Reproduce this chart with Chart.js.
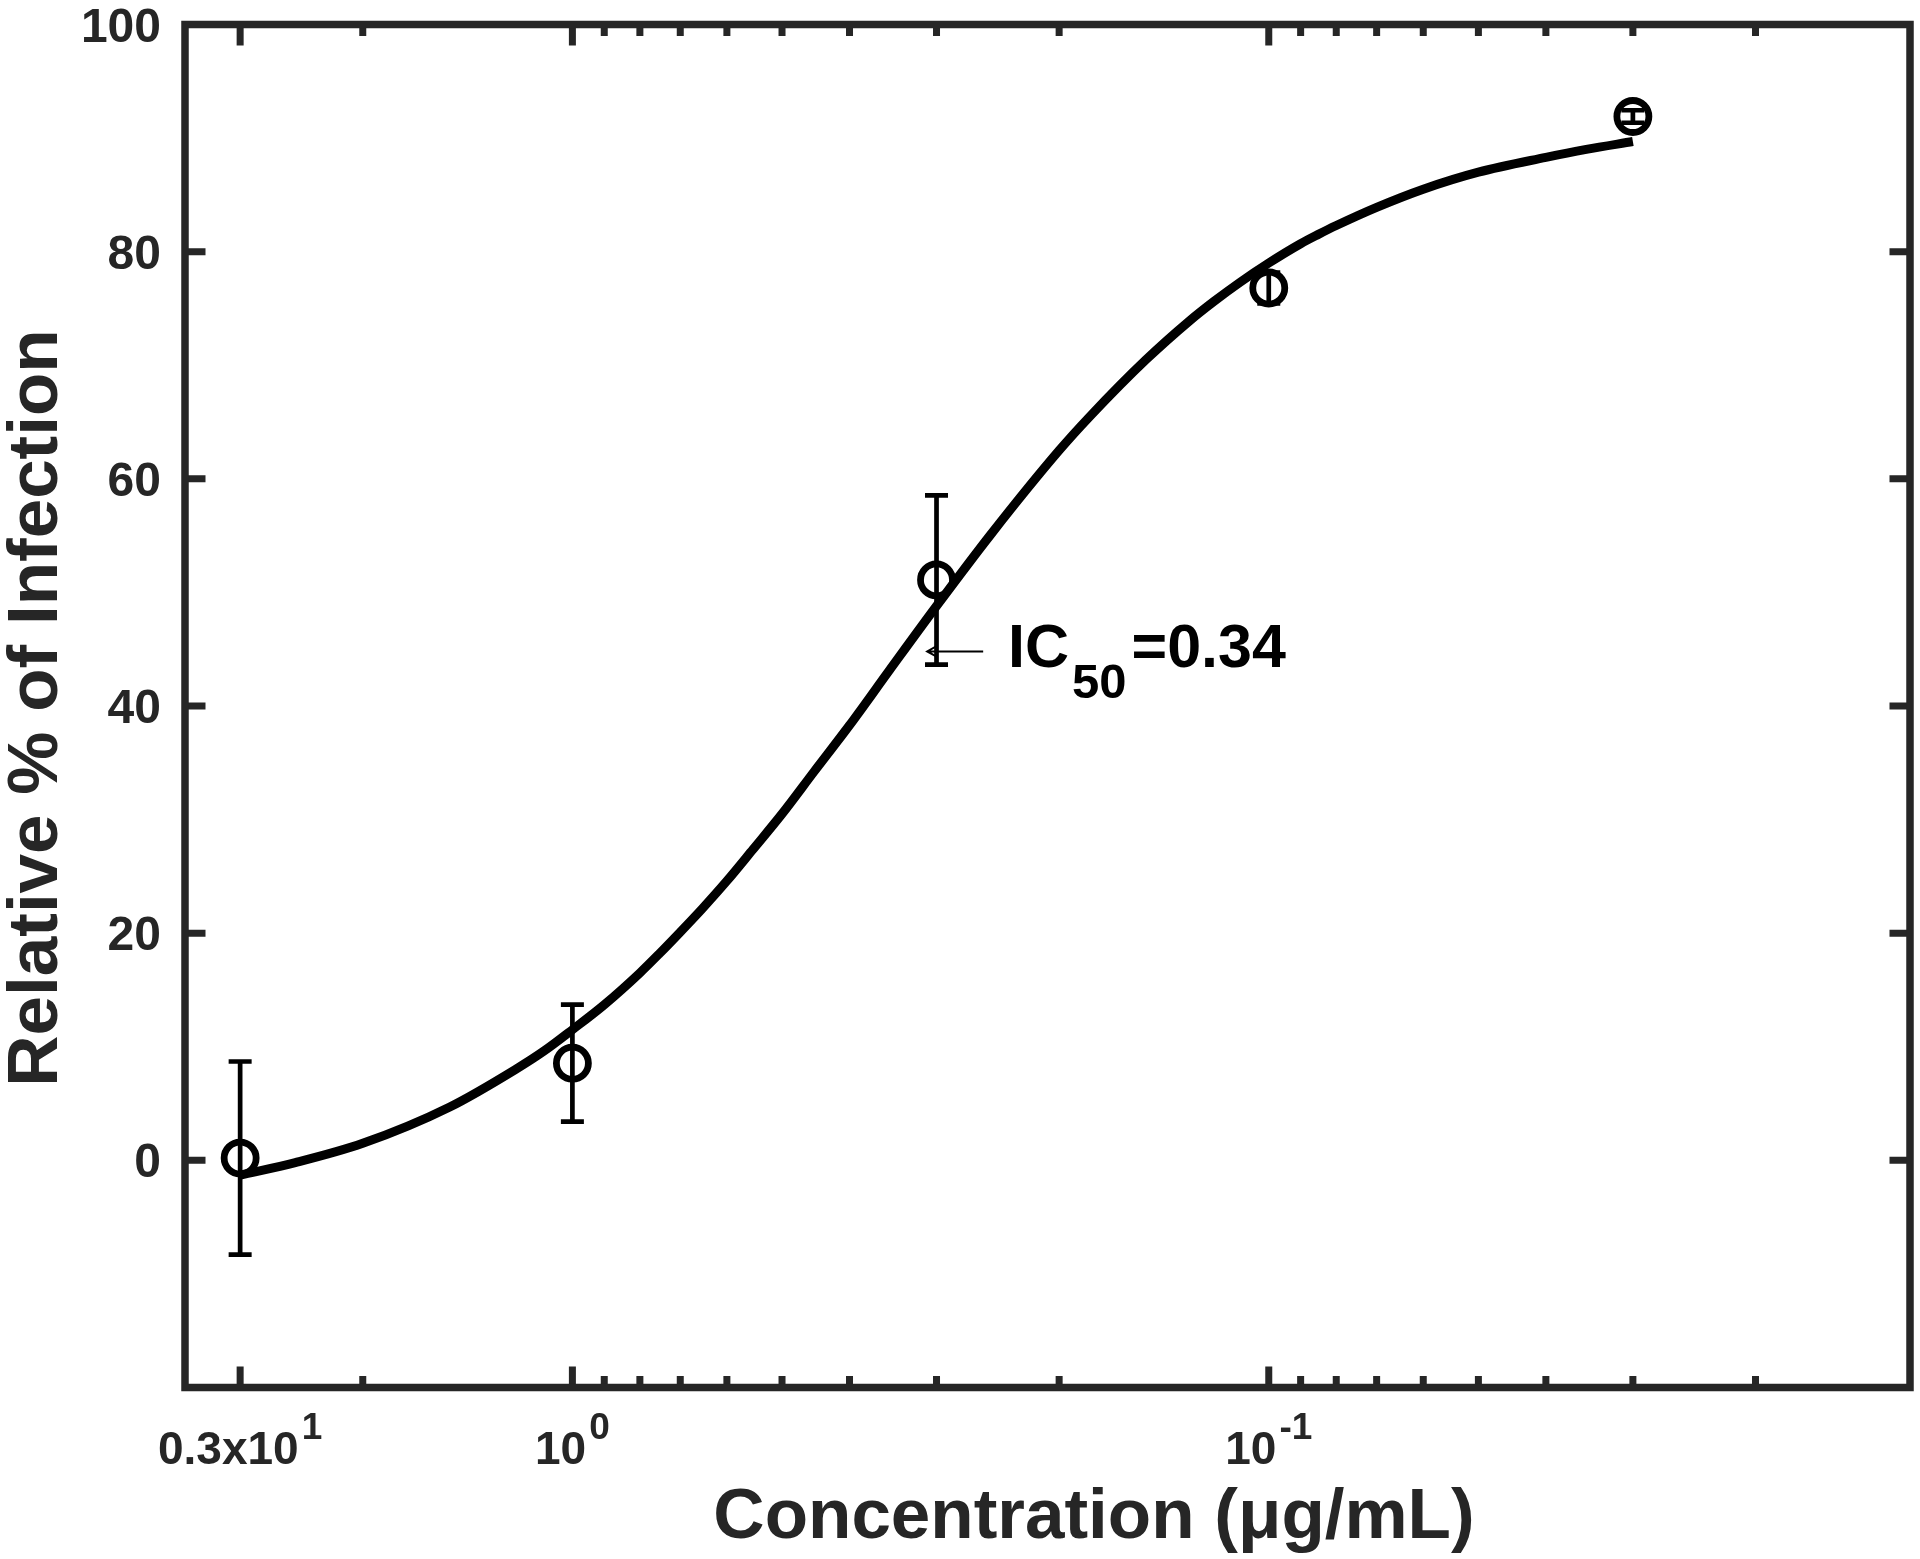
<!DOCTYPE html>
<html>
<head>
<meta charset="utf-8">
<script src="https://cdn.jsdelivr.net/npm/chart.js@4"></script>
<style>
  html, body { margin: 0; padding: 0; background: #fff; }
  #wrap { width: 1920px; height: 1559px; }
</style>
</head>
<body>
<div id="wrap"><canvas id="doseChart" width="1920" height="1559"></canvas></div>
<script>
// Measured points (concentration in ug/mL, relative % of infection)
const concentrations = [3, 1, 0.3, 0.1, 0.03];
const infectionMean = [0.2, 8.55, 51.1, 76.8, 91.9];
const infectionErr = [8.5, 5.15, 7.45, 1.35, 0.55];

// Fitted dose-response curve
const fitConc = [3, 2.5, 2, 1.5, 1.2, 1.1, 1, 0.9, 0.8, 0.75, 0.7, 0.65, 0.6, 0.55, 0.5, 0.45, 0.4, 0.35, 0.3, 0.25, 0.2, 0.18, 0.15, 0.13, 0.12, 0.11, 0.1, 0.09, 0.085, 0.08, 0.07, 0.06, 0.05, 0.04, 0.035, 0.03];
const fitInfection = [-1.3, -0.2, 1.5, 4.7, 8.1, 9.6, 11.5, 13.7, 16.5, 18.2, 20.1, 22.2, 24.6, 27.4, 30.5, 34.2, 38.3, 43.2, 48.8, 55.2, 62.5, 65.6, 70.5, 73.9, 75.6, 77.3, 79.0, 80.7, 81.5, 82.3, 83.9, 85.5, 87.0, 88.3, 89.0, 89.7];

// Axis ticks
const xMajorTicks = [3, 1, 0.1];
const xMinorTicks = [2, 0.9, 0.8, 0.7, 0.6, 0.5, 0.4, 0.3, 0.2, 0.09, 0.08, 0.07, 0.06, 0.05, 0.04, 0.03, 0.02];
const xTickBase = ['0.3x10', '10', '10'];
const xTickSup = ['1', '0', '-1'];
const yTicks = [-20, 0, 20, 40, 60, 80, 100];
const yTickLabels = ['', '0', '20', '40', '60', '80', '100'];

const ic50 = 0.34;
const ic50Label = { main: 'IC', sub: '50', tail: '=0.34' };

const axisColor = '#262626';
const FONT = '"Liberation Sans", Arial, Helvetica, sans-serif';

// MATLAB-like box, inward ticks, labels with superscripts, error bars, annotation
const matlabAxes = {
    id: 'matlabAxes',
    beforeDatasetsDraw(chart) {
        const { ctx, scales: { x, y } } = chart;
        ctx.save();
        ctx.strokeStyle = '#000';
        ctx.lineWidth = 4.7;
        ctx.lineCap = 'butt';
        concentrations.forEach((c, i) => {
            const px = x.getPixelForValue(c);
            const top = y.getPixelForValue(infectionMean[i] + infectionErr[i]);
            const bot = y.getPixelForValue(infectionMean[i] - infectionErr[i]);
            ctx.beginPath();
            ctx.moveTo(px, top); ctx.lineTo(px, bot);
            ctx.moveTo(px - 11.5, top); ctx.lineTo(px + 11.5, top);
            ctx.moveTo(px - 11.5, bot); ctx.lineTo(px + 11.5, bot);
            ctx.stroke();
        });
        ctx.restore();
    },
    afterDraw(chart) {
        const { ctx, chartArea: a, scales: { x, y } } = chart;
        ctx.save();
        ctx.strokeStyle = axisColor;
        ctx.fillStyle = axisColor;
        ctx.lineCap = 'butt';

        // ticks
        ctx.lineWidth = 7;
        ctx.beginPath();
        const xTick = (v, len) => {
            const px = x.getPixelForValue(v);
            ctx.moveTo(px, a.bottom); ctx.lineTo(px, a.bottom - len);
            ctx.moveTo(px, a.top); ctx.lineTo(px, a.top + len);
        };
        xMajorTicks.forEach(v => xTick(v, 21));
        xMinorTicks.forEach(v => xTick(v, 11.5));
        yTicks.forEach(v => {
            const py = y.getPixelForValue(v);
            ctx.moveTo(a.left, py); ctx.lineTo(a.left + 20.5, py);
            ctx.moveTo(a.right, py); ctx.lineTo(a.right - 20.5, py);
        });
        ctx.stroke();

        // box
        ctx.lineWidth = 7.5;
        ctx.strokeRect(a.left, a.top, a.right - a.left, a.bottom - a.top);

        // y tick labels
        ctx.font = 'bold 48px ' + FONT;
        ctx.textAlign = 'right';
        ctx.textBaseline = 'alphabetic';
        yTicks.forEach((v, i) => {
            ctx.fillText(yTickLabels[i], a.left - 24, y.getPixelForValue(v) + 17);
        });

        // x tick labels with superscript exponents
        const baseY = 1464;
        xMajorTicks.forEach((v, i) => {
            ctx.font = 'bold 46px ' + FONT;
            const wb = ctx.measureText(xTickBase[i]).width;
            ctx.font = 'bold 37px ' + FONT;
            const ws = ctx.measureText(xTickSup[i]).width;
            const left = x.getPixelForValue(v) - (wb + ws + 3) / 2;
            ctx.textAlign = 'left';
            ctx.font = 'bold 46px ' + FONT;
            ctx.fillText(xTickBase[i], left, baseY);
            ctx.font = 'bold 37px ' + FONT;
            ctx.fillText(xTickSup[i], left + wb + 3, baseY - 25);
        });

        // axis titles
        ctx.font = 'bold 71px ' + FONT;
        ctx.textAlign = 'center';
        ctx.fillText('Concentration (\u03bcg/mL)', 1094, 1538);
        ctx.save();
        ctx.translate(57, (a.top + a.bottom) / 2 + 2);
        ctx.rotate(-Math.PI / 2);
        ctx.fillText('Relative % of Infection', 0, 0);
        ctx.restore();

        // IC50 arrow + label
        const ax = x.getPixelForValue(ic50 * 0.91);
        const ay = y.getPixelForValue(44.8);
        ctx.strokeStyle = '#000';
        ctx.fillStyle = '#000';
        ctx.lineWidth = 2;
        ctx.beginPath();
        ctx.moveTo(ax, ay); ctx.lineTo(ax + 56, ay);
        ctx.moveTo(ax + 9, ay - 5); ctx.lineTo(ax, ay); ctx.lineTo(ax + 9, ay + 5);
        ctx.stroke();
        ctx.textAlign = 'left';
        ctx.font = 'bold 61px ' + FONT;
        ctx.fillText(ic50Label.main, 1008, 667);
        const wMain = ctx.measureText(ic50Label.main).width;
        ctx.font = 'bold 49px ' + FONT;
        ctx.fillText(ic50Label.sub, 1008 + wMain + 3, 698);
        const wSub = ctx.measureText(ic50Label.sub).width;
        ctx.font = 'bold 61px ' + FONT;
        ctx.fillText(ic50Label.tail, 1008 + wMain + 3 + wSub + 5, 667);

        ctx.restore();
    }
};

const ctx = document.getElementById('doseChart').getContext('2d');
new Chart(ctx, {
    type: 'scatter',
    data: {
        datasets: [
            {
                label: 'data',
                data: concentrations.map((c, i) => ({ x: c, y: infectionMean[i] })),
                pointStyle: 'circle',
                pointRadius: 16,
                pointBorderWidth: 6.8,
                borderColor: '#000',
                backgroundColor: 'rgba(0,0,0,0)',
                order: 1
            },
            {
                label: 'fit',
                data: fitConc.map((c, i) => ({ x: c, y: fitInfection[i] })),
                showLine: true,
                borderColor: '#000',
                borderWidth: 9,
                borderJoinStyle: 'round',
                pointRadius: 0,
                cubicInterpolationMode: 'monotone',
                order: 2
            }
        ]
    },
    options: {
        responsive: false,
        devicePixelRatio: 1,
        animation: false,
        events: [],
        layout: { autoPadding: false, padding: { left: 185, top: 24.5, right: 10, bottom: 171.5 } },
        plugins: { legend: { display: false }, tooltip: { enabled: false } },
        scales: {
            x: {
                type: 'logarithmic',
                reverse: true,
                min: 0.012,
                max: 3.6,
                grid: { display: false, drawTicks: false },
                border: { display: false },
                ticks: { display: false }
            },
            y: {
                type: 'linear',
                min: -20,
                max: 100,
                grid: { display: false, drawTicks: false },
                border: { display: false },
                ticks: { display: false }
            }
        }
    },
    plugins: [matlabAxes]
});
</script>
</body>
</html>
